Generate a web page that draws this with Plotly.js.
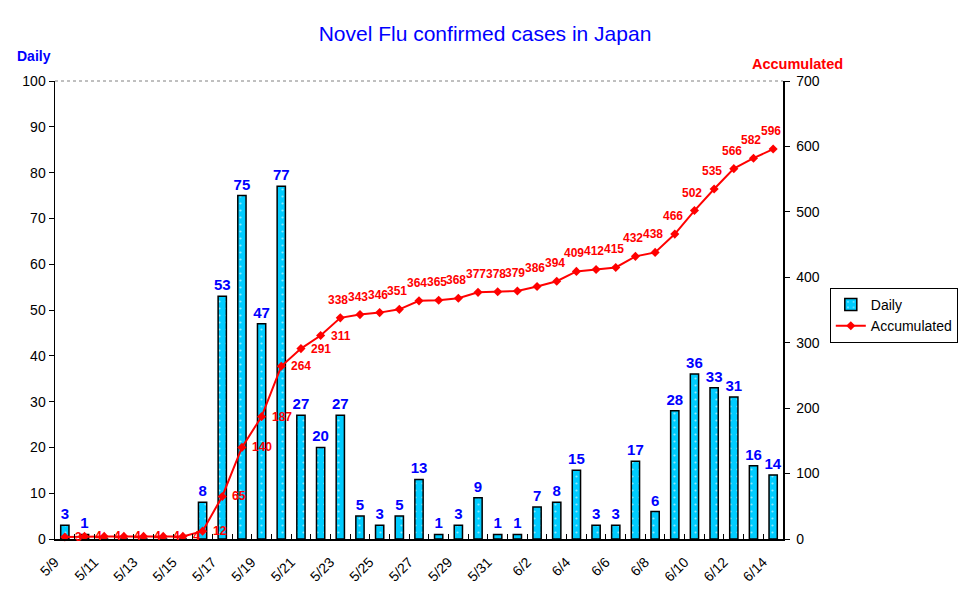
<!DOCTYPE html>
<html>
<head>
<meta charset="utf-8">
<script src="https://cdn.plot.ly/plotly-3.0.1.min.js"></script>
<style>html,body{margin:0;padding:0;background:#fff}#chart{width:970px;height:603px}</style>
</head>
<body>
<div id="chart"></div>
<script>
var dates = ["5/9","5/10","5/11","5/12","5/13","5/14","5/15","5/16","5/17","5/18","5/19","5/20","5/21","5/22","5/23","5/24","5/25","5/26","5/27","5/28","5/29","5/30","5/31","6/1","6/2","6/3","6/4","6/5","6/6","6/7","6/8","6/9","6/10","6/11","6/12","6/13","6/14"];
var daily = [3,1,0,0,0,0,0,8,53,75,47,77,27,20,27,5,3,5,13,1,3,9,1,1,7,8,15,3,3,17,6,28,36,33,31,16,14];
var accumulated = [3,4,4,4,4,4,4,12,65,140,187,264,291,311,338,343,346,351,364,365,368,377,378,379,386,394,409,412,415,432,438,466,502,535,566,582,596];
var tickLabels = ["5/9","","5/11","","5/13","","5/15","","5/17","","5/19","","5/21","","5/23","","5/25","","5/27","","5/29","","5/31","","6/2","","6/4","","6/6","","6/8","","6/10","","6/12","","6/14"];

var font = "Liberation Sans, Arial, sans-serif";
var dailyText = daily.map(function(v){ return v === 0 ? "" : String(v); });

var traces = [
  {
    type: "bar", name: "Daily", x: dates, y: daily,
    text: dailyText, textposition: "outside", cliponaxis: false, constraintext: "none",
    textfont: {color: "#0000ff", size: 15, family: font, weight: "bold"},
    marker: {color: "#00ccff", line: {color: "#000000", width: 1.5},
      pattern: {shape: ".", bgcolor: "#00ccff", fgcolor: "#8aeaff", size: 7, solidity: 0.08}},
    hoverinfo: "x+y"
  },
  {
    type: "scatter", mode: "lines+markers", name: "Accumulated",
    x: dates, y: accumulated, yaxis: "y2", cliponaxis: false,
    line: {color: "#ff0000", width: 2},
    marker: {symbol: "diamond", size: 7, color: "#ff0000"}
  }
];

var annotations = [
  {text: "<b>Daily</b>", xref: "paper", yref: "paper", x: -0.055, y: 1.055, xanchor: "left", yanchor: "middle",
   showarrow: false, font: {family: font, size: 14, color: "#0000ff"}},
  {text: "<b>Accumulated</b>", xref: "paper", yref: "paper", x: 0.955, y: 1.037, xanchor: "left", yanchor: "middle",
   showarrow: false, font: {family: font, size: 14.5, color: "#ff0000"}}
];
accumulated.forEach(function(v, i){
  var right = i < 14;
  annotations.push({
    text: "<b>" + v + "</b>", x: dates[i], y: v, xref: "x", yref: "y2",
    showarrow: false, xanchor: right ? "left" : "center", yanchor: "middle",
    xshift: right ? 8 : -2, yshift: right ? 0 : 18,
    font: {family: font, size: 12, color: "#ff0000"}
  });
});

var layout = {
  width: 970, height: 603,
  margin: {l: 55, r: 184, t: 81, b: 64},
  paper_bgcolor: "#ffffff", plot_bgcolor: "#ffffff",
  font: {family: font, size: 14, color: "#000000"},
  title: {text: "Novel Flu confirmed cases in Japan", x: 0.5, xanchor: "center", y: 0.944, yanchor: "middle",
    font: {family: font, size: 21, color: "#0000ff"}},
  bargap: 0.58,
  showlegend: true,
  legend: {x: (833 - 55) / (970 - 55 - 184), xref: "paper", y: 0.548, yanchor: "top",
    bordercolor: "#000000", borderwidth: 1,
    font: {family: font, size: 14, color: "#000000"}, tracegroupgap: 0},
  xaxis: {
    type: "category", tickmode: "array", tickvals: dates, ticktext: tickLabels,
    tickangle: -45, tickson: "boundaries", ticks: "inside", ticklen: 5, tickcolor: "#000",
    ticklabelstandoff: 8, ticklabelshift: -10,
    showline: true, linecolor: "#000", linewidth: 1.5, showgrid: false, zeroline: false,
    tickfont: {size: 14, family: font, color: "#000"}, range: [-0.5, 36.5]
  },
  yaxis: {
    range: [0, 100], dtick: 10, ticks: "outside", ticklen: 5, tickcolor: "#000",
    showline: true, linecolor: "#000", linewidth: 1.5, showgrid: false, zeroline: false,
    tickfont: {size: 14, family: font, color: "#000"}
  },
  yaxis2: {
    range: [0, 700], dtick: 100, overlaying: "y", side: "right", ticks: "outside", ticklen: 5, tickcolor: "#000",
    ticklabelstandoff: 4,
    showline: true, linecolor: "#000", linewidth: 1.5, showgrid: false, zeroline: false,
    tickfont: {size: 14, family: font, color: "#000"}
  },
  shapes: [
    {type: "line", xref: "paper", yref: "paper", x0: 0, x1: 1, y0: 1, y1: 1,
     line: {color: "#808080", width: 1, dash: "dot"}}
  ],
  annotations: annotations
};

Plotly.newPlot("chart", traces, layout, {displayModeBar: false, staticPlot: true});
</script>
</body>
</html>
